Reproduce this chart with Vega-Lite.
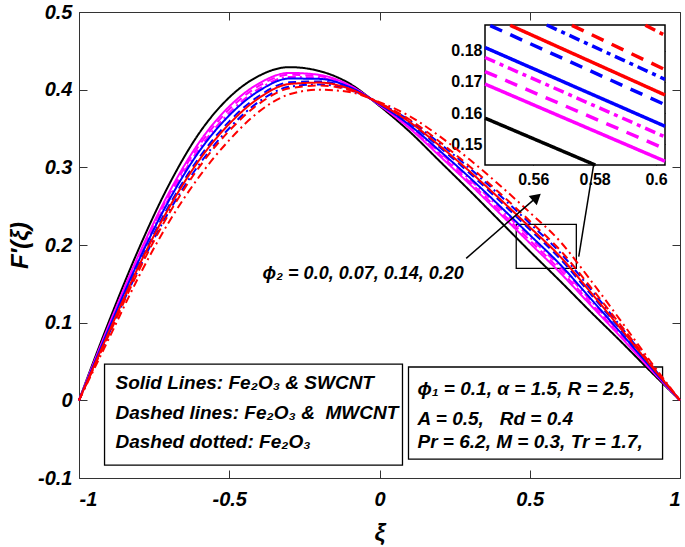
{
  "$schema": "https://vega.github.io/schema/vega-lite/v6.json",
  "width": 601,
  "height": 466,
  "autosize": {"type": "none"},
  "padding": {"left": 79, "top": 12, "right": 5, "bottom": 69},
  "background": "white",
  "config": {
    "view": {"stroke": "#333333", "strokeWidth": 1},
    "font": "Liberation Sans"
  },
  "datasets": {
    "curves": [
      {"p":"0.0","f":"SWCNT","x":-1,"y":0},{"p":"0.0","f":"SWCNT","x":-0.9,"y":0.102},{"p":"0.0","f":"SWCNT","x":-0.8,"y":0.196},{"p":"0.0","f":"SWCNT","x":-0.7,"y":0.278},{"p":"0.0","f":"SWCNT","x":-0.6,"y":0.344},{"p":"0.0","f":"SWCNT","x":-0.5,"y":0.39},{"p":"0.0","f":"SWCNT","x":-0.4,"y":0.418},{"p":"0.0","f":"SWCNT","x":-0.3,"y":0.429},{"p":"0.0","f":"SWCNT","x":-0.2,"y":0.424},{"p":"0.0","f":"SWCNT","x":-0.1,"y":0.408},{"p":"0.0","f":"SWCNT","x":0,"y":0.379},{"p":"0.0","f":"SWCNT","x":0.1,"y":0.346},{"p":"0.0","f":"SWCNT","x":0.2,"y":0.308},{"p":"0.0","f":"SWCNT","x":0.3,"y":0.27},{"p":"0.0","f":"SWCNT","x":0.4,"y":0.231},{"p":"0.0","f":"SWCNT","x":0.5,"y":0.192},{"p":"0.0","f":"SWCNT","x":0.6,"y":0.154},{"p":"0.0","f":"SWCNT","x":0.7,"y":0.115},{"p":"0.0","f":"SWCNT","x":0.8,"y":0.077},{"p":"0.0","f":"SWCNT","x":0.9,"y":0.038},{"p":"0.0","f":"SWCNT","x":1,"y":0},

      {"p":"0.07","f":"SWCNT","x":-1,"y":0},{"p":"0.07","f":"SWCNT","x":-0.9,"y":0.0974},{"p":"0.07","f":"SWCNT","x":-0.8,"y":0.1884},{"p":"0.07","f":"SWCNT","x":-0.7,"y":0.2679},{"p":"0.07","f":"SWCNT","x":-0.6,"y":0.3322},{"p":"0.07","f":"SWCNT","x":-0.5,"y":0.3784},{"p":"0.07","f":"SWCNT","x":-0.4,"y":0.4083},{"p":"0.07","f":"SWCNT","x":-0.3,"y":0.4216},{"p":"0.07","f":"SWCNT","x":-0.2,"y":0.419},{"p":"0.07","f":"SWCNT","x":-0.1,"y":0.4057},{"p":"0.07","f":"SWCNT","x":0,"y":0.3801},{"p":"0.07","f":"SWCNT","x":0.1,"y":0.3502},{"p":"0.07","f":"SWCNT","x":0.2,"y":0.3147},{"p":"0.07","f":"SWCNT","x":0.3,"y":0.2784},{"p":"0.07","f":"SWCNT","x":0.4,"y":0.2407},{"p":"0.07","f":"SWCNT","x":0.5,"y":0.2025},{"p":"0.07","f":"SWCNT","x":0.6,"y":0.1647},{"p":"0.07","f":"SWCNT","x":0.7,"y":0.1236},{"p":"0.07","f":"SWCNT","x":0.8,"y":0.0827},{"p":"0.07","f":"SWCNT","x":0.9,"y":0.0407},{"p":"0.07","f":"SWCNT","x":1,"y":0},

      {"p":"0.07","f":"MWCNT","x":-1,"y":0},{"p":"0.07","f":"MWCNT","x":-0.9,"y":0.0958},{"p":"0.07","f":"MWCNT","x":-0.8,"y":0.1859},{"p":"0.07","f":"MWCNT","x":-0.7,"y":0.2646},{"p":"0.07","f":"MWCNT","x":-0.6,"y":0.3283},{"p":"0.07","f":"MWCNT","x":-0.5,"y":0.3746},{"p":"0.07","f":"MWCNT","x":-0.4,"y":0.4051},{"p":"0.07","f":"MWCNT","x":-0.3,"y":0.4192},{"p":"0.07","f":"MWCNT","x":-0.2,"y":0.4173},{"p":"0.07","f":"MWCNT","x":-0.1,"y":0.4049},{"p":"0.07","f":"MWCNT","x":0,"y":0.3804},{"p":"0.07","f":"MWCNT","x":0.1,"y":0.3516},{"p":"0.07","f":"MWCNT","x":0.2,"y":0.317},{"p":"0.07","f":"MWCNT","x":0.3,"y":0.2812},{"p":"0.07","f":"MWCNT","x":0.4,"y":0.2439},{"p":"0.07","f":"MWCNT","x":0.5,"y":0.206},{"p":"0.07","f":"MWCNT","x":0.6,"y":0.1683},{"p":"0.07","f":"MWCNT","x":0.7,"y":0.1265},{"p":"0.07","f":"MWCNT","x":0.8,"y":0.0846},{"p":"0.07","f":"MWCNT","x":0.9,"y":0.0416},{"p":"0.07","f":"MWCNT","x":1,"y":0},

      {"p":"0.07","f":"Fe2O3","x":-1,"y":0},{"p":"0.07","f":"Fe2O3","x":-0.9,"y":0.0941},{"p":"0.07","f":"Fe2O3","x":-0.8,"y":0.183},{"p":"0.07","f":"Fe2O3","x":-0.7,"y":0.2607},{"p":"0.07","f":"Fe2O3","x":-0.6,"y":0.3238},{"p":"0.07","f":"Fe2O3","x":-0.5,"y":0.3702},{"p":"0.07","f":"Fe2O3","x":-0.4,"y":0.4014},{"p":"0.07","f":"Fe2O3","x":-0.3,"y":0.4164},{"p":"0.07","f":"Fe2O3","x":-0.2,"y":0.4154},{"p":"0.07","f":"Fe2O3","x":-0.1,"y":0.404},{"p":"0.07","f":"Fe2O3","x":0,"y":0.3808},{"p":"0.07","f":"Fe2O3","x":0.1,"y":0.3532},{"p":"0.07","f":"Fe2O3","x":0.2,"y":0.3195},{"p":"0.07","f":"Fe2O3","x":0.3,"y":0.2844},{"p":"0.07","f":"Fe2O3","x":0.4,"y":0.2476},{"p":"0.07","f":"Fe2O3","x":0.5,"y":0.21},{"p":"0.07","f":"Fe2O3","x":0.6,"y":0.1724},{"p":"0.07","f":"Fe2O3","x":0.7,"y":0.1298},{"p":"0.07","f":"Fe2O3","x":0.8,"y":0.0867},{"p":"0.07","f":"Fe2O3","x":0.9,"y":0.0427},{"p":"0.07","f":"Fe2O3","x":1,"y":0},

      {"p":"0.14","f":"SWCNT","x":-1,"y":0},{"p":"0.14","f":"SWCNT","x":-0.9,"y":0.0928},{"p":"0.14","f":"SWCNT","x":-0.8,"y":0.1809},{"p":"0.14","f":"SWCNT","x":-0.7,"y":0.2578},{"p":"0.14","f":"SWCNT","x":-0.6,"y":0.3205},{"p":"0.14","f":"SWCNT","x":-0.5,"y":0.3669},{"p":"0.14","f":"SWCNT","x":-0.4,"y":0.3987},{"p":"0.14","f":"SWCNT","x":-0.3,"y":0.4143},{"p":"0.14","f":"SWCNT","x":-0.2,"y":0.4139},{"p":"0.14","f":"SWCNT","x":-0.1,"y":0.4034},{"p":"0.14","f":"SWCNT","x":0,"y":0.3811},{"p":"0.14","f":"SWCNT","x":0.1,"y":0.3544},{"p":"0.14","f":"SWCNT","x":0.2,"y":0.3214},{"p":"0.14","f":"SWCNT","x":0.3,"y":0.2868},{"p":"0.14","f":"SWCNT","x":0.4,"y":0.2503},{"p":"0.14","f":"SWCNT","x":0.5,"y":0.213},{"p":"0.14","f":"SWCNT","x":0.6,"y":0.1754},{"p":"0.14","f":"SWCNT","x":0.7,"y":0.1322},{"p":"0.14","f":"SWCNT","x":0.8,"y":0.0883},{"p":"0.14","f":"SWCNT","x":0.9,"y":0.0435},{"p":"0.14","f":"SWCNT","x":1,"y":0},

      {"p":"0.14","f":"MWCNT","x":-1,"y":0},{"p":"0.14","f":"MWCNT","x":-0.9,"y":0.0897},{"p":"0.14","f":"MWCNT","x":-0.8,"y":0.1758},{"p":"0.14","f":"MWCNT","x":-0.7,"y":0.2511},{"p":"0.14","f":"MWCNT","x":-0.6,"y":0.3126},{"p":"0.14","f":"MWCNT","x":-0.5,"y":0.3592},{"p":"0.14","f":"MWCNT","x":-0.4,"y":0.3922},{"p":"0.14","f":"MWCNT","x":-0.3,"y":0.4094},{"p":"0.14","f":"MWCNT","x":-0.2,"y":0.4106},{"p":"0.14","f":"MWCNT","x":-0.1,"y":0.4018},{"p":"0.14","f":"MWCNT","x":0,"y":0.3818},{"p":"0.14","f":"MWCNT","x":0.1,"y":0.3572},{"p":"0.14","f":"MWCNT","x":0.2,"y":0.3259},{"p":"0.14","f":"MWCNT","x":0.3,"y":0.2924},{"p":"0.14","f":"MWCNT","x":0.4,"y":0.2568},{"p":"0.14","f":"MWCNT","x":0.5,"y":0.22},{"p":"0.14","f":"MWCNT","x":0.6,"y":0.1826},{"p":"0.14","f":"MWCNT","x":0.7,"y":0.138},{"p":"0.14","f":"MWCNT","x":0.8,"y":0.0921},{"p":"0.14","f":"MWCNT","x":0.9,"y":0.0453},{"p":"0.14","f":"MWCNT","x":1,"y":0},

      {"p":"0.14","f":"Fe2O3","x":-1,"y":0},{"p":"0.14","f":"Fe2O3","x":-0.9,"y":0.0862},{"p":"0.14","f":"Fe2O3","x":-0.8,"y":0.1701},{"p":"0.14","f":"Fe2O3","x":-0.7,"y":0.2434},{"p":"0.14","f":"Fe2O3","x":-0.6,"y":0.3037},{"p":"0.14","f":"Fe2O3","x":-0.5,"y":0.3504},{"p":"0.14","f":"Fe2O3","x":-0.4,"y":0.3849},{"p":"0.14","f":"Fe2O3","x":-0.3,"y":0.4038},{"p":"0.14","f":"Fe2O3","x":-0.2,"y":0.4067},{"p":"0.14","f":"Fe2O3","x":-0.1,"y":0.4001},{"p":"0.14","f":"Fe2O3","x":0,"y":0.3826},{"p":"0.14","f":"Fe2O3","x":0.1,"y":0.3604},{"p":"0.14","f":"Fe2O3","x":0.2,"y":0.331},{"p":"0.14","f":"Fe2O3","x":0.3,"y":0.2988},{"p":"0.14","f":"Fe2O3","x":0.4,"y":0.2641},{"p":"0.14","f":"Fe2O3","x":0.5,"y":0.228},{"p":"0.14","f":"Fe2O3","x":0.6,"y":0.1907},{"p":"0.14","f":"Fe2O3","x":0.7,"y":0.1445},{"p":"0.14","f":"Fe2O3","x":0.8,"y":0.0964},{"p":"0.14","f":"Fe2O3","x":0.9,"y":0.0474},{"p":"0.14","f":"Fe2O3","x":1,"y":0},

      {"p":"0.20","f":"SWCNT","x":-1,"y":0},{"p":"0.20","f":"SWCNT","x":-0.9,"y":0.0884},{"p":"0.20","f":"SWCNT","x":-0.8,"y":0.1737},{"p":"0.20","f":"SWCNT","x":-0.7,"y":0.2482},{"p":"0.20","f":"SWCNT","x":-0.6,"y":0.3093},{"p":"0.20","f":"SWCNT","x":-0.5,"y":0.3559},{"p":"0.20","f":"SWCNT","x":-0.4,"y":0.3895},{"p":"0.20","f":"SWCNT","x":-0.3,"y":0.4073},{"p":"0.20","f":"SWCNT","x":-0.2,"y":0.4091},{"p":"0.20","f":"SWCNT","x":-0.1,"y":0.4012},{"p":"0.20","f":"SWCNT","x":0,"y":0.3821},{"p":"0.20","f":"SWCNT","x":0.1,"y":0.3584},{"p":"0.20","f":"SWCNT","x":0.2,"y":0.3278},{"p":"0.20","f":"SWCNT","x":0.3,"y":0.2948},{"p":"0.20","f":"SWCNT","x":0.4,"y":0.2595},{"p":"0.20","f":"SWCNT","x":0.5,"y":0.223},{"p":"0.20","f":"SWCNT","x":0.6,"y":0.1856},{"p":"0.20","f":"SWCNT","x":0.7,"y":0.1404},{"p":"0.20","f":"SWCNT","x":0.8,"y":0.0937},{"p":"0.20","f":"SWCNT","x":0.9,"y":0.0461},{"p":"0.20","f":"SWCNT","x":1,"y":0},

      {"p":"0.20","f":"MWCNT","x":-1,"y":0},{"p":"0.20","f":"MWCNT","x":-0.9,"y":0.0848},{"p":"0.20","f":"MWCNT","x":-0.8,"y":0.1679},{"p":"0.20","f":"MWCNT","x":-0.7,"y":0.2406},{"p":"0.20","f":"MWCNT","x":-0.6,"y":0.3003},{"p":"0.20","f":"MWCNT","x":-0.5,"y":0.3471},{"p":"0.20","f":"MWCNT","x":-0.4,"y":0.3821},{"p":"0.20","f":"MWCNT","x":-0.3,"y":0.4017},{"p":"0.20","f":"MWCNT","x":-0.2,"y":0.4053},{"p":"0.20","f":"MWCNT","x":-0.1,"y":0.3994},{"p":"0.20","f":"MWCNT","x":0,"y":0.3829},{"p":"0.20","f":"MWCNT","x":0.1,"y":0.3616},{"p":"0.20","f":"MWCNT","x":0.2,"y":0.333},{"p":"0.20","f":"MWCNT","x":0.3,"y":0.3012},{"p":"0.20","f":"MWCNT","x":0.4,"y":0.2669},{"p":"0.20","f":"MWCNT","x":0.5,"y":0.231},{"p":"0.20","f":"MWCNT","x":0.6,"y":0.1938},{"p":"0.20","f":"MWCNT","x":0.7,"y":0.147},{"p":"0.20","f":"MWCNT","x":0.8,"y":0.0981},{"p":"0.20","f":"MWCNT","x":0.9,"y":0.0481},{"p":"0.20","f":"MWCNT","x":1,"y":0},

      {"p":"0.20","f":"Fe2O3","x":-1,"y":0},{"p":"0.20","f":"Fe2O3","x":-0.9,"y":0.08},{"p":"0.20","f":"Fe2O3","x":-0.8,"y":0.16},{"p":"0.20","f":"Fe2O3","x":-0.7,"y":0.23},{"p":"0.20","f":"Fe2O3","x":-0.6,"y":0.288},{"p":"0.20","f":"Fe2O3","x":-0.5,"y":0.335},{"p":"0.20","f":"Fe2O3","x":-0.4,"y":0.372},{"p":"0.20","f":"Fe2O3","x":-0.3,"y":0.394},{"p":"0.20","f":"Fe2O3","x":-0.2,"y":0.4},{"p":"0.20","f":"Fe2O3","x":-0.1,"y":0.397},{"p":"0.20","f":"Fe2O3","x":0,"y":0.384},{"p":"0.20","f":"Fe2O3","x":0.1,"y":0.366},{"p":"0.20","f":"Fe2O3","x":0.2,"y":0.34},{"p":"0.20","f":"Fe2O3","x":0.3,"y":0.31},{"p":"0.20","f":"Fe2O3","x":0.4,"y":0.277},{"p":"0.20","f":"Fe2O3","x":0.5,"y":0.242},{"p":"0.20","f":"Fe2O3","x":0.6,"y":0.205},{"p":"0.20","f":"Fe2O3","x":0.7,"y":0.156},{"p":"0.20","f":"Fe2O3","x":0.8,"y":0.104},{"p":"0.20","f":"Fe2O3","x":0.9,"y":0.051},{"p":"0.20","f":"Fe2O3","x":1,"y":0}
    ],
    "inset": [
      {"p":"0.0","f":"SWCNT","x":0.5443,"y":0.1584},{"p":"0.0","f":"SWCNT","x":0.5802,"y":0.1434},
      {"p":"0.07","f":"SWCNT","x":0.5443,"y":0.1693},{"p":"0.07","f":"SWCNT","x":0.6029,"y":0.1446},
      {"p":"0.07","f":"MWCNT","x":0.5443,"y":0.1733},{"p":"0.07","f":"MWCNT","x":0.6029,"y":0.1486},
      {"p":"0.07","f":"Fe2O3","x":0.5443,"y":0.1778},{"p":"0.07","f":"Fe2O3","x":0.6029,"y":0.1524},
      {"p":"0.14","f":"SWCNT","x":0.5443,"y":0.181},{"p":"0.14","f":"SWCNT","x":0.6029,"y":0.1558},
      {"p":"0.14","f":"MWCNT","x":0.546,"y":0.188},{"p":"0.14","f":"MWCNT","x":0.6029,"y":0.1627},
      {"p":"0.14","f":"Fe2O3","x":0.5644,"y":0.1882},{"p":"0.14","f":"Fe2O3","x":0.6029,"y":0.1708},
      {"p":"0.20","f":"SWCNT","x":0.5525,"y":0.1881},{"p":"0.20","f":"SWCNT","x":0.6029,"y":0.1658},
      {"p":"0.20","f":"MWCNT","x":0.5726,"y":0.1881},{"p":"0.20","f":"MWCNT","x":0.6029,"y":0.1739},
      {"p":"0.20","f":"Fe2O3","x":0.5965,"y":0.1881},{"p":"0.20","f":"Fe2O3","x":0.6029,"y":0.1849}
    ]
  },
  "layer": [
    {
      "data": {"values": [
        {"x": -0.915, "x2": 0.0765, "y": 0.0467, "y2": -0.0833},
        {"x": 0.0965, "x2": 0.942, "y": 0.0429, "y2": -0.0756}
      ]},
      "mark": {"type": "rect", "fill": "white", "stroke": "black", "strokeWidth": 1.3},
      "encoding": {
        "x": {"field": "x", "type": "quantitative",
              "scale": {"domain": [-1, 1], "nice": false, "zero": false},
              "axis": {"orient": "bottom", "values": [-1, -0.5, 0, 0.5, 1], "domain": false,
                       "tickSize": -8, "tickColor": "#333333", "grid": false,
                       "labelExpr": "datum.value < 0 ? '-' + format(-datum.value, '.1~f') : format(datum.value, '.1~f')",
                       "labelFont": "Liberation Sans", "labelFontSize": 20, "labelFontWeight": "bold", "labelFontStyle": "italic",
                       "labelColor": "black", "labelPadding": 19,
                       "title": "ξ", "titleFont": "Liberation Sans", "titleFontSize": 24, "titleFontWeight": "bold",
                       "titleFontStyle": "italic", "titleColor": "black", "titlePadding": 12}},
        "x2": {"field": "x2"},
        "y": {"field": "y", "type": "quantitative",
              "scale": {"domain": [-0.1, 0.5], "nice": false, "zero": false},
              "axis": {"orient": "left", "values": [-0.1, 0, 0.1, 0.2, 0.3, 0.4, 0.5], "domain": false,
                       "tickSize": -8, "tickColor": "#333333", "grid": false,
                       "labelExpr": "datum.value < 0 ? '-' + format(-datum.value, '.1~f') : format(datum.value, '.1~f')",
                       "labelFont": "Liberation Sans", "labelFontSize": 20, "labelFontWeight": "bold", "labelFontStyle": "italic",
                       "labelColor": "black", "labelPadding": 15,
                       "title": "F′(ξ)", "titleFont": "Liberation Sans", "titleFontSize": 24, "titleFontWeight": "bold",
                       "titleFontStyle": "italic", "titleColor": "black", "titlePadding": 5}},
        "y2": {"field": "y2"}
      }
    },
    {
      "data": {"values": [{"x": 0.455, "x2": 0.655, "y": 0.2266, "y2": 0.170}]},
      "mark": {"type": "rect", "fill": null, "filled": false, "stroke": "black", "strokeWidth": 1.3},
      "encoding": {
        "x": {"field": "x", "type": "quantitative", "scale": {"domain": [-1, 1], "nice": false, "zero": false}, "axis": null},
        "x2": {"field": "x2"},
        "y": {"field": "y", "type": "quantitative", "scale": {"domain": [-0.1, 0.5], "nice": false, "zero": false}, "axis": null},
        "y2": {"field": "y2"}
      }
    },
    {
      "data": {"name": "curves"},
      "mark": {"type": "line", "strokeWidth": 2, "interpolate": "monotone"},
      "encoding": {
        "x": {"field": "x", "type": "quantitative",
              "scale": {"domain": [-1, 1], "nice": false, "zero": false},
              "axis": {"orient": "top", "values": [-1, -0.5, 0, 0.5, 1], "labels": false, "domain": false,
                       "tickSize": -8, "tickColor": "#333333", "grid": false, "title": null}},
        "y": {"field": "y", "type": "quantitative",
              "scale": {"domain": [-0.1, 0.5], "nice": false, "zero": false},
              "axis": {"orient": "right", "values": [-0.1, 0, 0.1, 0.2, 0.3, 0.4, 0.5], "labels": false, "domain": false,
                       "tickSize": -8, "tickColor": "#333333", "grid": false, "title": null}},
        "color": {"field": "p", "type": "nominal",
                  "scale": {"domain": ["0.0", "0.07", "0.14", "0.20"], "range": ["#000000", "#FF00FF", "#0000FF", "#FF0000"]},
                  "legend": null},
        "strokeDash": {"field": "f", "type": "nominal",
                       "scale": {"domain": ["SWCNT", "MWCNT", "Fe2O3"], "range": [[1, 0], [8, 5], [8, 4, 2, 4]]},
                       "legend": null}
      }
    },
    {
      "data": {"values": [
        {"x": 0.2885, "y": 0.1828, "x2": 0.5233, "y2": 0.2616},
        {"x": 0.663, "y": 0.1849, "x2": 0.712, "y2": 0.3019}
      ]},
      "mark": {"type": "rule", "color": "black", "strokeWidth": 1.5},
      "encoding": {
        "x": {"field": "x", "type": "quantitative", "scale": {"domain": [-1, 1], "nice": false, "zero": false}, "axis": null},
        "x2": {"field": "x2"},
        "y": {"field": "y", "type": "quantitative", "scale": {"domain": [-0.1, 0.5], "nice": false, "zero": false}, "axis": null},
        "y2": {"field": "y2"}
      }
    },
    {
      "data": {"values": [{"x": 0.5233, "y": 0.2616}]},
      "mark": {"type": "point", "shape": "triangle-up", "filled": true, "color": "black", "size": 150, "angle": 49, "opacity": 1},
      "encoding": {
        "x": {"field": "x", "type": "quantitative", "scale": {"domain": [-1, 1], "nice": false, "zero": false}, "axis": null},
        "y": {"field": "y", "type": "quantitative", "scale": {"domain": [-0.1, 0.5], "nice": false, "zero": false}, "axis": null}
      }
    },
    {
      "data": {"values": [
        {"x": -0.389, "y": 0.163, "s": 18, "t": "ϕ₂ = 0.0, 0.07, 0.14, 0.20"},
        {"x": -0.8785, "y": 0.0223, "s": 19, "t": "Solid Lines: Fe₂O₃ & SWCNT"},
        {"x": -0.8785, "y": -0.0164, "s": 19, "t": "Dashed lines: Fe₂O₃ &\u00a0 MWCNT"},
        {"x": -0.8785, "y": -0.0537, "s": 19, "t": "Dashed dotted: Fe₂O₃"},
        {"x": 0.1265, "y": 0.0145, "s": 19, "t": "ϕ₁ = 0.1, α = 1.5, R = 2.5,"},
        {"x": 0.1265, "y": -0.0241, "s": 19, "t": "A = 0.5,\u00a0\u00a0 Rd = 0.4"},
        {"x": 0.1265, "y": -0.0537, "s": 19, "t": "Pr = 6.2, M = 0.3, Tr = 1.7,"}
      ]},
      "mark": {"type": "text", "align": "left", "baseline": "middle", "font": "Liberation Sans",
               "fontWeight": "bold", "fontStyle": "italic", "color": "black"},
      "encoding": {
        "x": {"field": "x", "type": "quantitative", "scale": {"domain": [-1, 1], "nice": false, "zero": false}, "axis": null},
        "y": {"field": "y", "type": "quantitative", "scale": {"domain": [-0.1, 0.5], "nice": false, "zero": false}, "axis": null},
        "text": {"field": "t"},
        "size": {"field": "s", "type": "quantitative", "scale": null}
      }
    },
    {
      "data": {"values": [{"x": 0.5443, "x2": 0.6029, "y": 0.1434, "y2": 0.1882}]},
      "mark": {"type": "rect", "fill": "white", "stroke": "black", "strokeWidth": 1.5},
      "encoding": {
        "x": {"field": "x", "type": "quantitative",
              "scale": {"domain": [0.5443, 0.6029], "range": [406, 586], "nice": false, "zero": false},
              "axis": {"orient": "top", "offset": -13, "values": [0.56, 0.58, 0.6], "labels": false, "domain": false,
                       "tickSize": -4, "tickColor": "black", "grid": false, "title": null}},
        "x2": {"field": "x2"},
        "y": {"field": "y", "type": "quantitative",
              "scale": {"domain": [0.1434, 0.1882], "range": [153, 13], "nice": false, "zero": false},
              "axis": {"orient": "right", "offset": -15, "values": [0.15, 0.16, 0.17, 0.18], "labels": false, "domain": false,
                       "tickSize": -4, "tickColor": "black", "grid": false, "title": null}},
        "y2": {"field": "y2"}
      }
    },
    {
      "data": {"name": "inset"},
      "mark": {"type": "line", "strokeWidth": 3.5, "strokeCap": "butt"},
      "encoding": {
        "x": {"field": "x", "type": "quantitative",
              "scale": {"domain": [0.5443, 0.6029], "range": [406, 586], "nice": false, "zero": false},
              "axis": {"orient": "bottom", "offset": -313, "values": [0.56, 0.58, 0.6], "format": ".2~f", "domain": false,
                       "tickSize": -4, "tickColor": "black", "grid": false, "title": null,
                       "labelFont": "Liberation Sans", "labelFontSize": 16, "labelFontWeight": "bold",
                       "labelColor": "black", "labelPadding": 10}},
        "y": {"field": "y", "type": "quantitative",
              "scale": {"domain": [0.1434, 0.1882], "range": [153, 13], "nice": false, "zero": false},
              "axis": {"orient": "left", "offset": -406, "values": [0.15, 0.16, 0.17, 0.18], "format": ".2f", "domain": false,
                       "tickSize": -4, "tickColor": "black", "grid": false, "title": null,
                       "labelFont": "Liberation Sans", "labelFontSize": 16, "labelFontWeight": "bold",
                       "labelColor": "black", "labelPadding": 7}},
        "color": {"field": "p", "type": "nominal",
                  "scale": {"domain": ["0.0", "0.07", "0.14", "0.20"], "range": ["#000000", "#FF00FF", "#0000FF", "#FF0000"]},
                  "legend": null},
        "strokeDash": {"field": "f", "type": "nominal",
                       "scale": {"domain": ["SWCNT", "MWCNT", "Fe2O3"], "range": [[1, 0], [13, 9], [11, 5, 4, 5]]},
                       "legend": null}
      }
    }
  ],
  "resolve": {
    "scale": {"x": "independent", "y": "independent", "color": "independent", "strokeDash": "independent", "size": "independent"},
    "axis": {"x": "independent", "y": "independent"}
  }
}
